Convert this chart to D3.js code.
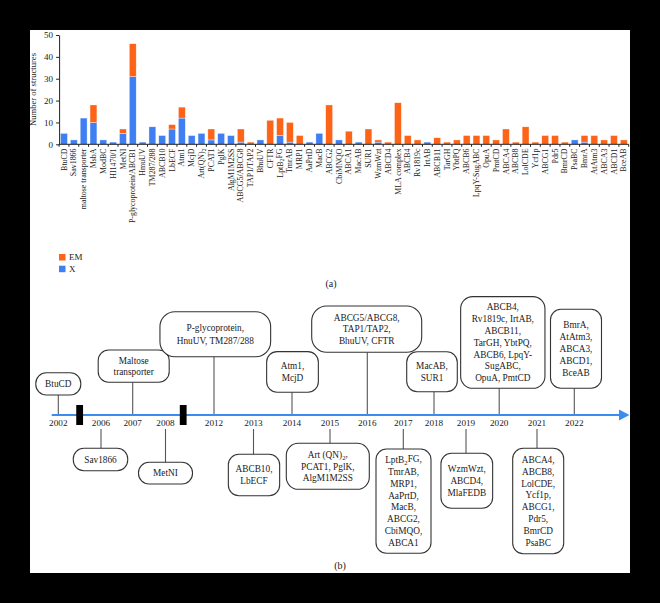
<!DOCTYPE html>
<html><head><meta charset="utf-8">
<script src="https://cdn.jsdelivr.net/npm/d3@7"></script>
<style>body{margin:0;background:#000;} svg{display:block;}</style>
</head><body>
<svg id="c" width="660" height="603"></svg>
<script>
// ---------- DATA ----------
const categories = ["BtuCD","Sav1866","maltose transporter","MsbA","ModBC","HI1470/1","MetNI","P-glycoprotein/ABCB1","HmuUV","TM287/288","ABCB10","LbECF","Atm1","McjD","Art(QN)_2","PCAT1","PglK","AlgM1M2SS","ABCG5/ABCG8","TAP1/TAP2","BhuUV","CFTR","LptB_2FG","TmrAB","MRP1","AaPrtD","MacB","ABCG2","CbiMNQO","ABCA1","MacAB","SUR1","WzmWzt","ABCD4","MLA complex","ABCB4","Rv1819c","IrtAB","ABCB11","TarGH","YbtPQ","ABCB6","LpqY-SugABC","OpuA","PmtCD","ABCA4","ABCB8","LolCDE","Ycf1p","ABCG1","Pdr5","BmrCD","PsaBC","BmrA","AtAtm3","ABCA3","ABCD1","BceAB"];
const xrayCounts = [5,2,12,10,2,1,5,31,1,8, 4,7,12,4,5,2,5,4,1,0, 2,0,4,1,0,1,5,0,2,0, 1,0,1,0,0,0,0,1,0,0, 0,0,0,0,0,0,0,0,0,0, 0,0,2,1,0,0,0,0];
const emCounts   = [0,0,0,8,0,0,2,15,0,0, 0,2,5,0,0,5,0,0,6,1, 0,11,8,9,4,0,0,18,0,6, 0,7,1,1,19,4,2,0,3,1, 2,4,4,4,2,7,1,8,1,4, 4,1,0,3,4,2,4,2];
const seriesKeys = ["X","EM"];
const legendOrder = ["EM","X"];
const yTicks = [0,10,20,30,40,50];
const yTitle = "Number of structures";

const timelineYears = [2002,2006,2007,2008,2012,2013,2014,2015,2016,2017,2018,2019,2020,2021,2022];
const timelineEntries = [
  ["BtuCD"],
  ["Sav1866"],
  ["Maltose","transporter"],
  ["MetNI"],
  ["P-glycoprotein,","HnuUV, TM287/288"],
  ["ABCB10,","LbECF"],
  ["Atm1,","McjD"],
  ["Art (QN)_2,","PCAT1, PglK,","AlgM1M2SS"],
  ["ABCG5/ABCG8,","TAP1/TAP2,","BhuUV, CFTR"],
  ["LptB_2FG,","TmrAB,","MRP1,","AaPrtD,","MacB,","ABCG2,","CbiMQO,","ABCA1"],
  ["MacAB,","SUR1"],
  ["WzmWzt,","ABCD4,","MlaFEDB"],
  ["ABCB4,","Rv1819c, IrtAB,","ABCB11,","TarGH, YbtPQ,","ABCB6, LpqY-","SugABC,","OpuA, PmtCD"],
  ["ABCA4,","ABCB8,","LolCDE,","Ycf1p,","ABCG1,","Pdr5,","BmrCD","PsaBC"],
  ["BmrA,","AtAtm3,","ABCA3,","ABCD1,","BceAB"]
];

// ---------- LAYOUT ----------
const serif = "'Liberation Serif','Times New Roman',serif";
const colors = {EM:"#fe6418", X:"#3f7ff2"};
const ink = "#1a1a1a";
const svg = d3.select("#c");
svg.append("rect").attr("x",30).attr("y",30).attr("width",600).attr("height",543).attr("fill","#fff");

// text helper with _2 subscript support
function richText(sel, str){
  const parts = str.split(/_(\d)/);
  let afterSub = false;
  parts.forEach((p,i)=>{
    if(i%2===1){
      sel.append("tspan").attr("dy","0.28em").attr("font-size","0.72em").text(p);
      afterSub = true;
    } else if(p!==""){
      const ts = sel.append("tspan").text(p);
      if(afterSub){ ts.attr("dy","-0.28em"); afterSub = false; }
    }
  });
}

// ---------- PANEL (a) ----------
const table = categories.map((c,i)=>({cat:c, X:xrayCounts[i], EM:emCounts[i]}));
const stacked = d3.stack().keys(seriesKeys)(table);
const x = d3.scaleBand().domain(categories).range([59.1, 628.7]).paddingInner(0.3).paddingOuter(0.15);
const y = d3.scaleLinear().domain([0,50]).range([144.3, 35]);

const bars = svg.append("g");
stacked.forEach(s=>{
  bars.append("g").attr("fill", colors[s.key])
    .selectAll("rect").data(s.filter(d=>d[1]>d[0])).join("rect")
    .attr("x", d=>x(d.data.cat))
    .attr("width", x.bandwidth())
    .attr("y", d=>y(d[1]))
    .attr("height", d=>y(d[0])-y(d[1]))
    .attr("stroke","rgba(255,255,255,0.7)").attr("stroke-width",0.5);
});

// y axis
const yAxis = svg.append("g").attr("transform","translate(59.1,0)")
  .call(d3.axisLeft(y).tickValues(yTicks).tickSize(3).tickSizeOuter(0).tickPadding(3));
yAxis.selectAll("text").attr("font-family",serif).attr("font-size",9).attr("fill",ink);
yAxis.selectAll("line,path").attr("stroke","#222");

// x axis line + boundary ticks
const xg = svg.append("g");
xg.append("line").attr("x1",x.range()[0]).attr("x2",x.range()[1]).attr("y1",y(0)).attr("y2",y(0)).attr("stroke","#222");
const stepPad = x.step()*x.paddingInner()/2;
const bounds = categories.map(c=>x(c)-stepPad).concat([x(categories[categories.length-1])+x.bandwidth()+stepPad]);
xg.selectAll("line.tk").data(bounds).join("line").attr("class","tk")
  .attr("x1",d=>d).attr("x2",d=>d)
  .attr("y1",y(0)).attr("y2",y(0)+2.5).attr("stroke","#222");
xg.selectAll("text.cl").data(categories).join("text")
  .attr("class","cl")
  .attr("transform", d=>`translate(${x(d)+x.bandwidth()/2},148.5) rotate(-90)`)
  .attr("text-anchor","end").attr("dy","0.33em")
  .attr("font-family",serif).attr("font-size",7.9).attr("fill",ink)
  .each(function(d){ richText(d3.select(this), d); });

// y title
svg.append("text").attr("transform","translate(36,89.5) rotate(-90)")
  .attr("text-anchor","middle").attr("font-family",serif).attr("font-size",8.6).attr("fill",ink).text(yTitle);

// legend
const lg = svg.append("g");
legendOrder.forEach((k,i)=>{
  lg.append("rect").attr("x",59).attr("y",254+i*11.7).attr("width",6.5).attr("height",6.5).attr("fill",colors[k]);
  lg.append("text").attr("x",69).attr("y",257.3+i*11.7).attr("dy","0.35em")
    .attr("font-family",serif).attr("font-size",9).attr("fill",ink).text(k);
});
svg.append("text").attr("x",331).attr("y",283).attr("dy","0.35em").attr("text-anchor","middle")
  .attr("font-family",serif).attr("font-size",10).attr("fill",ink).text("(a)");

// ---------- PANEL (b) ----------
const lineY = 415;
const yearPx = [58.3,101,132.7,165.5,214,253.5,292,330,367.3,403.3,434,466,499.2,537,574.3];
const t = d3.scaleLinear().domain(timelineYears).range(yearPx);
const boxW = [45,54.4,71,54,110.7,51.3,51.7,83,110,55,50.6,51.7,84.3,51,51];
const boxH = [22.3,22.4,32.3,21.7,45,41.4,40.7,46,46.3,104.3,40,55,91.7,105.4,79];
const boxGap = [20,33.3,32.7,47.3,58.3,39.3,22.7,28.3,62.7,34,23.3,38.3,26.7,33.3,26.7];
const boxDx = [0,-0.5,1,0,1.3,0.5,0.5,-2.2,-0.6,0.2,-2,0.8,3.6,1.2,1.7];
const lineH = 11.8;

const tl = svg.append("g");
tl.append("line").attr("x1",51.7).attr("x2",621).attr("y1",lineY).attr("y2",lineY)
  .attr("stroke","#3b8cf0").attr("stroke-width",2);
tl.append("path").attr("d",`M619,${lineY-5.6}L629.5,${lineY}L619,${lineY+5.6}Z`).attr("fill","#3b8cf0");

// breaks
const breakPos = [ (t(2002)+t(2006))/2, t(2008)+0.365*(t(2012)-t(2008)) ];
breakPos.forEach(bx=>{
  tl.append("rect").attr("x",bx-3.4).attr("y",lineY-10).attr("width",6.8).attr("height",20).attr("fill","#000");
});

// years
tl.selectAll("text.yr").data(timelineYears).join("text").attr("class","yr")
  .attr("x",d=>t(d)).attr("y",422.3).attr("dy","0.35em").attr("text-anchor","middle")
  .attr("font-family",serif).attr("font-size",9.2).attr("fill",ink).text(d=>d);

// boxes
timelineYears.forEach((yr,i)=>{
  const above = i%2===0;
  const cx = t(yr)+boxDx[i];
  const w = boxW[i], h = boxH[i];
  const top = above ? lineY - boxGap[i] - h : lineY + boxGap[i];
  const rx = Math.min(h/2, w>=100 ? 15 : (w>=80 ? 12 : 10.5));
  if(above){
    tl.append("line").attr("x1",t(yr)).attr("x2",t(yr)).attr("y1",top+h).attr("y2",lineY-1)
      .attr("stroke","#555").attr("stroke-width",1.1);
  } else {
    tl.append("line").attr("x1",t(yr)).attr("x2",t(yr)).attr("y1",lineY+14).attr("y2",top)
      .attr("stroke","#555").attr("stroke-width",1.1);
  }
  tl.append("rect").attr("x",cx-w/2).attr("y",top).attr("width",w).attr("height",h)
    .attr("rx",rx).attr("ry",rx).attr("fill","#fff").attr("stroke","#333").attr("stroke-width",1.1);
  const lines = timelineEntries[i];
  const c = top + h/2;
  const lh = (i===4) ? 13.3 : lineH;
  lines.forEach((ln,j)=>{
    const ty = c + (j-(lines.length-1)/2)*lh;
    const tx = tl.append("text").attr("x",cx).attr("y",ty).attr("dy","0.35em").attr("text-anchor","middle")
      .attr("font-family",serif).attr("font-size",9.3).attr("fill",ink);
    richText(tx, ln);
  });
});

svg.append("text").attr("x",340).attr("y",565.7).attr("dy","0.35em").attr("text-anchor","middle")
  .attr("font-family",serif).attr("font-size",10).attr("fill",ink).text("(b)");
</script>
</body></html>
